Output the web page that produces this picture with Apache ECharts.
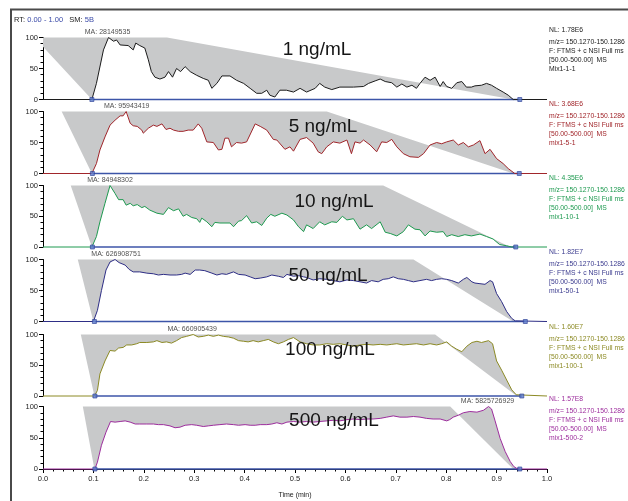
<!DOCTYPE html>
<html>
<head>
<meta charset="utf-8">
<script src="https://cdn.jsdelivr.net/npm/echarts@6/dist/echarts.min.js"></script>
<style>
  html, body { margin: 0; padding: 0; background: #fff; }
  #chart { width: 628px; height: 501px; }
</style>
</head>
<body>
<div id="chart"></div>
<script>
// ---- data (time in min, relative abundance %) ----
const trace1 = [[0,0],[0.097,0],[0.106,26],[0.120,80],[0.130,100],[0.140,94],[0.146,96],[0.153,88],[0.169,87],[0.179,80],[0.184,91],[0.192,87],[0.202,83],[0.209,64],[0.215,45],[0.222,36],[0.232,33],[0.242,36],[0.249,45],[0.257,36],[0.265,50],[0.273,45],[0.282,53],[0.292,45],[0.305,39],[0.318,34],[0.328,31],[0.335,18],[0.345,26],[0.355,38],[0.371,38],[0.384,31],[0.398,26],[0.411,18],[0.424,10],[0.434,10],[0.444,15],[0.450,7],[0.460,4],[0.470,15],[0.483,15],[0.497,12],[0.510,18],[0.523,12],[0.540,18],[0.549,26],[0.559,20],[0.573,16],[0.589,20],[0.616,20],[0.636,21],[0.646,26],[0.659,30],[0.669,33],[0.679,29],[0.692,27],[0.702,20],[0.712,25],[0.722,20],[0.732,23],[0.741,18],[0.748,26],[0.758,36],[0.768,31],[0.778,36],[0.788,21],[0.794,29],[0.801,21],[0.811,18],[0.821,27],[0.831,29],[0.840,20],[0.850,20],[0.857,22],[0.870,23],[0.880,26],[0.890,23],[0.900,18],[0.913,12],[0.923,7],[0.933,0],[1,0]];
const trace2 = [[0,0],[0.097,0],[0.106,16],[0.113,38],[0.123,59],[0.133,78],[0.143,86],[0.153,93],[0.159,93],[0.165,100],[0.167,98],[0.173,81],[0.179,77],[0.187,76],[0.196,70],[0.199,65],[0.209,73],[0.219,78],[0.226,76],[0.236,80],[0.244,71],[0.252,73],[0.259,70],[0.269,68],[0.278,68],[0.288,70],[0.298,70],[0.308,80],[0.315,73],[0.325,51],[0.338,50],[0.348,38],[0.355,39],[0.361,57],[0.368,57],[0.374,43],[0.384,50],[0.394,49],[0.404,51],[0.421,80],[0.431,76],[0.444,70],[0.457,55],[0.464,54],[0.480,39],[0.490,43],[0.497,36],[0.510,55],[0.523,58],[0.536,49],[0.546,35],[0.553,32],[0.563,43],[0.576,51],[0.589,49],[0.603,54],[0.612,32],[0.619,51],[0.629,49],[0.636,54],[0.649,46],[0.662,35],[0.672,51],[0.682,50],[0.692,55],[0.702,43],[0.715,32],[0.728,27],[0.745,26],[0.755,32],[0.768,46],[0.781,50],[0.791,48],[0.801,51],[0.814,54],[0.824,46],[0.834,50],[0.844,43],[0.854,46],[0.867,53],[0.877,32],[0.887,39],[0.900,24],[0.913,16],[0.923,8],[0.936,0],[1,0]];
const trace3 = [[0,0],[0.097,0],[0.106,17],[0.113,41],[0.123,71],[0.133,100],[0.143,87],[0.150,77],[0.159,77],[0.165,68],[0.173,71],[0.179,67],[0.187,69],[0.196,64],[0.202,66],[0.212,60],[0.226,55],[0.239,53],[0.249,64],[0.259,59],[0.269,62],[0.278,50],[0.285,53],[0.295,48],[0.305,46],[0.311,40],[0.315,47],[0.325,41],[0.335,33],[0.341,40],[0.351,39],[0.371,39],[0.378,33],[0.388,42],[0.394,43],[0.404,51],[0.414,39],[0.424,41],[0.434,35],[0.444,47],[0.452,53],[0.460,50],[0.474,55],[0.484,52],[0.497,44],[0.507,33],[0.517,25],[0.523,36],[0.536,30],[0.549,41],[0.559,36],[0.573,41],[0.583,40],[0.594,50],[0.603,44],[0.616,46],[0.629,29],[0.642,36],[0.652,30],[0.669,41],[0.679,24],[0.689,22],[0.702,18],[0.715,25],[0.725,36],[0.738,29],[0.748,28],[0.758,18],[0.768,26],[0.781,24],[0.794,25],[0.801,17],[0.811,20],[0.824,17],[0.837,20],[0.850,18],[0.867,21],[0.880,17],[0.893,13],[0.906,4],[0.920,2],[0.930,0],[1,0]];
const trace4 = [[0,0],[0.100,0],[0.108,18],[0.116,50],[0.125,83],[0.133,96],[0.143,100],[0.151,95],[0.163,91],[0.171,84],[0.179,80],[0.192,80],[0.206,78],[0.219,77],[0.229,75],[0.239,76],[0.252,75],[0.265,75],[0.275,76],[0.282,78],[0.292,76],[0.302,83],[0.311,83],[0.321,82],[0.335,78],[0.345,75],[0.355,77],[0.364,76],[0.378,80],[0.388,76],[0.401,75],[0.411,72],[0.421,69],[0.431,70],[0.444,72],[0.454,75],[0.467,73],[0.477,71],[0.484,76],[0.497,73],[0.507,74],[0.517,72],[0.523,71],[0.536,67],[0.549,69],[0.563,68],[0.576,66],[0.589,64],[0.603,67],[0.616,66],[0.629,64],[0.642,62],[0.652,66],[0.665,64],[0.675,68],[0.685,69],[0.695,72],[0.705,69],[0.715,68],[0.725,66],[0.735,64],[0.748,66],[0.761,68],[0.771,66],[0.781,68],[0.791,69],[0.801,68],[0.811,66],[0.824,62],[0.834,68],[0.841,71],[0.851,64],[0.857,62],[0.867,61],[0.877,60],[0.887,66],[0.892,64],[0.900,45],[0.910,32],[0.920,16],[0.930,5],[0.937,1],[0.940,0],[1,0]];
const trace5 = [[0,0],[0.102,0],[0.108,9],[0.113,36],[0.123,57],[0.133,74],[0.143,73],[0.150,78],[0.159,79],[0.166,83],[0.176,83],[0.186,85],[0.192,87],[0.206,87],[0.219,88],[0.226,90],[0.236,87],[0.245,88],[0.255,86],[0.265,90],[0.275,95],[0.285,97],[0.298,100],[0.308,96],[0.318,97],[0.328,99],[0.338,97],[0.348,99],[0.358,97],[0.368,96],[0.378,94],[0.388,90],[0.398,89],[0.407,88],[0.417,90],[0.427,88],[0.437,90],[0.447,92],[0.457,88],[0.467,85],[0.477,88],[0.487,92],[0.497,95],[0.510,88],[0.523,85],[0.536,83],[0.549,83],[0.563,85],[0.576,84],[0.589,85],[0.603,83],[0.616,81],[0.629,83],[0.642,84],[0.655,83],[0.669,84],[0.682,83],[0.692,84],[0.702,85],[0.715,83],[0.728,84],[0.741,85],[0.755,83],[0.768,85],[0.781,83],[0.791,85],[0.801,88],[0.811,81],[0.821,76],[0.831,72],[0.841,81],[0.851,87],[0.861,89],[0.870,87],[0.884,90],[0.892,85],[0.900,57],[0.910,42],[0.920,26],[0.930,10],[0.939,2],[0.942,0],[1,0]];
const trace6 = [[0,0],[0.103,0],[0.108,11],[0.116,38],[0.125,59],[0.134,76],[0.143,75],[0.153,76],[0.163,77],[0.173,75],[0.183,72],[0.192,72],[0.206,72],[0.219,72],[0.229,71],[0.239,71],[0.252,69],[0.262,66],[0.272,67],[0.282,70],[0.295,71],[0.305,70],[0.318,68],[0.328,69],[0.338,70],[0.351,71],[0.364,72],[0.378,71],[0.388,70],[0.401,71],[0.411,70],[0.421,70],[0.431,71],[0.444,71],[0.454,72],[0.464,74],[0.474,72],[0.484,75],[0.497,76],[0.510,75],[0.523,76],[0.536,75],[0.549,76],[0.563,77],[0.576,78],[0.589,77],[0.603,79],[0.616,80],[0.629,79],[0.642,80],[0.655,80],[0.669,81],[0.682,83],[0.695,85],[0.708,83],[0.722,83],[0.735,84],[0.748,83],[0.761,81],[0.774,80],[0.788,80],[0.801,77],[0.807,79],[0.814,83],[0.824,86],[0.834,90],[0.847,92],[0.861,91],[0.874,94],[0.884,100],[0.890,96],[0.897,77],[0.907,49],[0.917,28],[0.927,12],[0.934,4],[0.940,1],[0.947,0],[1,0]];

// integration outlines (grey peak areas) as vertices
const ceil1 = [[0.097,0],[0,85],[0,100],[0.246,100],[0.933,0]];
const ceil2 = [[0.097,0],[0.037,100],[0.563,100],[0.933,0]];
const ceil3 = [[0.097,0],[0.055,100],[0.675,100],[0.927,0]];
const ceil4 = [[0.100,0],[0.069,100],[0.735,100],[0.933,0]];
const ceil5 = [[0.102,0],[0.075,100],[0.778,100],[0.940,0]];
const ceil6 = [[0.102,0],[0.079,100],[0.808,100],[0.933,0]];

// peak start / end markers
const peakStart = [0.097, 0.098, 0.098, 0.102, 0.103, 0.103];
const peakEnd   = [0.946, 0.945, 0.938, 0.957, 0.950, 0.946];
const maTime    = [0.128, 0.166, 0.133, 0.145, 0.296, 0.882];
const maArea    = ['28149535', '95943419', '84948302', '626908751', '660905439', '5825726929'];
const concLabels = ['1 ng/mL', '5 ng/mL', '10 ng/mL', '50 ng/mL', '100 ng/mL', '500 ng/mL'];
const nlValues  = ['1.78E6', '3.68E6', '4.35E6', '1.82E7', '1.60E7', '1.57E8'];
const fileNames = ['Mix1-1-1', 'mix1-5-1', 'mix1-10-1', 'mix1-50-1', 'mix1-100-1', 'mix1-500-2'];
const yTicks = [0, 50, 100];

const traces = [trace1, trace2, trace3, trace4, trace5, trace6];
const ceils = [ceil1, ceil2, ceil3, ceil4, ceil5, ceil6];

// ---- layout / style ----
const FONT = '"Liberation Sans", Arial, sans-serif';
const lineColors = ['#1c1c1c', '#a1262b', '#1e9a50', '#2e2e86', '#8c8a24', '#9d2d9d'];
const textColors = ['#222222', '#a1262b', '#1e9a50', '#3a3a8e', '#8c8a24', '#9d2d9d'];
const GREY = '#c8c9ca';
const BASE_BLUE = '#3c55a8';
const tops = [37.5, 111.5, 185.5, 259.5, 334.5, 406.5];
const heights = [62, 62, 61.5, 62, 61.5, 62.5];
const concOffsetX = [317, 323, 334, 328, 330, 334];
const concOffsetY = [12, 15, 16, 16, 15, 14];

function signedArea(pts) {
  let s = 0;
  for (let i = 0; i < pts.length; i++) {
    const a = pts[i], b = pts[(i + 1) % pts.length];
    s += a[0] * b[1] - b[0] * a[1];
  }
  return s;
}
function ring(pts) {
  return 'M' + pts.map(p => p[0].toFixed(2) + ' ' + p[1].toFixed(2)).join('L') + 'Z';
}
// grey = area between trace and outline (xor of the two regions)
function greyRender(trace, ceil) {
  return function (params, api) {
    const a = trace.map(p => api.coord(p));
    let b = ceil.map(p => api.coord(p));
    if (signedArea(a) * signedArea(b) > 0) b = b.slice().reverse();
    return {
      type: 'path',
      shape: { pathData: ring(a) + ring(b) },
      style: { fill: GREY, stroke: null },
      silent: true
    };
  };
}

const grid = [], xAxis = [], yAxis = [], series = [], graphic = [];

traces.forEach((tr, i) => {
  const last = i === traces.length - 1;
  grid.push({ left: 43, right: 81, top: tops[i], height: heights[i] });
  xAxis.push({
    type: 'value', gridIndex: i, min: 0, max: 1, interval: 0.1,
    show: last,
    axisLine: { show: true, lineStyle: { color: '#000', width: 1 } },
    axisTick: { show: true, length: 4, lineStyle: { color: '#000' } },
    minorTick: { show: true, splitNumber: 5, length: 2.5, lineStyle: { color: '#000' } },
    axisLabel: { fontSize: 7.5, fontFamily: FONT, color: '#222', margin: 6,
      formatter: v => v.toFixed(1) },
    splitLine: { show: false },
    name: last ? 'Time (min)' : '',
    nameLocation: 'middle', nameGap: 23,
    nameTextStyle: { fontSize: 7, fontFamily: FONT, color: '#222' }
  });
  yAxis.push({
    type: 'value', gridIndex: i, min: yTicks[0], max: yTicks[yTicks.length - 1],
    interval: yTicks[1] - yTicks[0],
    axisLine: { show: true, lineStyle: { color: '#000', width: 1 } },
    axisTick: { show: true, length: 4, lineStyle: { color: '#000' } },
    minorTick: { show: true, splitNumber: 5, length: 2.5, lineStyle: { color: '#000' } },
    axisLabel: { fontSize: 7.5, fontFamily: FONT, color: '#222', margin: 5 },
    splitLine: { show: false }
  });

  series.push({
    type: 'custom', xAxisIndex: i, yAxisIndex: i, z: 1,
    data: [[0, 0]], clip: false,
    renderItem: greyRender(tr, ceils[i])
  });
  series.push({
    type: 'line', xAxisIndex: i, yAxisIndex: i, z: 2, clip: false,
    data: [[peakStart[i], 0], [peakEnd[i], 0]],
    showSymbol: false, silent: true,
    lineStyle: { color: BASE_BLUE, width: 1.5 }
  });
  series.push({
    type: 'line', xAxisIndex: i, yAxisIndex: i, z: 3, clip: false,
    data: tr, showSymbol: false, silent: true,
    lineStyle: { color: lineColors[i], width: 1 }
  });
  series.push({
    type: 'scatter', xAxisIndex: i, yAxisIndex: i, z: 4, clip: false,
    data: [[peakStart[i], 0], [peakEnd[i], 0]],
    symbol: 'rect', symbolSize: 4, silent: true,
    itemStyle: { color: '#5b7acb', borderColor: '#2c3f95', borderWidth: 0.8 }
  });
  // MA label above apex
  series.push({
    type: 'scatter', xAxisIndex: i, yAxisIndex: i, z: 5, clip: false,
    data: [[maTime[i], 100]], symbolSize: 0, silent: true,
    label: {
      show: true, position: 'top', distance: 2,
      formatter: 'MA: ' + maArea[i],
      fontSize: 7, fontFamily: FONT, color: '#222'
    }
  });

  // concentration label
  graphic.push({
    type: 'text', x: concOffsetX[i], y: tops[i] + concOffsetY[i], z: 100,
    style: { text: concLabels[i], font: '19px ' + FONT, fill: '#151515',
      align: 'center', verticalAlign: 'middle', textAlign: 'center', textVerticalAlign: 'middle' }
  });
  // right-hand info block
  const info = [
    ['NL: ' + nlValues[i], -7],
    ['m/z= 150.1270-150.1286', 5],
    ['F: FTMS + c NSI Full ms', 13.5],
    ['[50.00-500.00]  MS', 23],
    [fileNames[i], 32]
  ];
  info.forEach(([t, dy]) => {
    graphic.push({
      type: 'text', x: 549, y: tops[i] + dy, z: 100,
      style: { text: t, font: '6.8px ' + FONT, fill: textColors[i],
        align: 'left', verticalAlign: 'middle', textAlign: 'left', textVerticalAlign: 'middle' }
    });
  });
});

// header and frame
graphic.push({
  type: 'text', x: 14, y: 20, z: 100,
  style: {
    text: '{k|RT:} {v|0.00 - 1.00}   {k|SM:} {v|5B}',
    font: '7.5px ' + FONT, verticalAlign: 'middle', textVerticalAlign: 'middle',
    rich: {
      k: { fill: '#222', color: '#222', fontSize: 7.5, fontFamily: FONT },
      v: { fill: '#3a4aa8', color: '#3a4aa8', fontSize: 7.5, fontFamily: FONT }
    }
  }
});
graphic.push({
  type: 'rect', z: 100,
  shape: { x: 11, y: 9.5, width: 700, height: 600 },
  style: { fill: 'none', stroke: '#4a4a4a', lineWidth: 2 }
});

const chart = echarts.init(document.getElementById('chart'), null, { renderer: 'canvas' });
chart.setOption({
  animation: false,
  backgroundColor: '#fff',
  grid: grid,
  xAxis: xAxis,
  yAxis: yAxis,
  series: series,
  graphic: graphic
});
</script>
</body>
</html>
